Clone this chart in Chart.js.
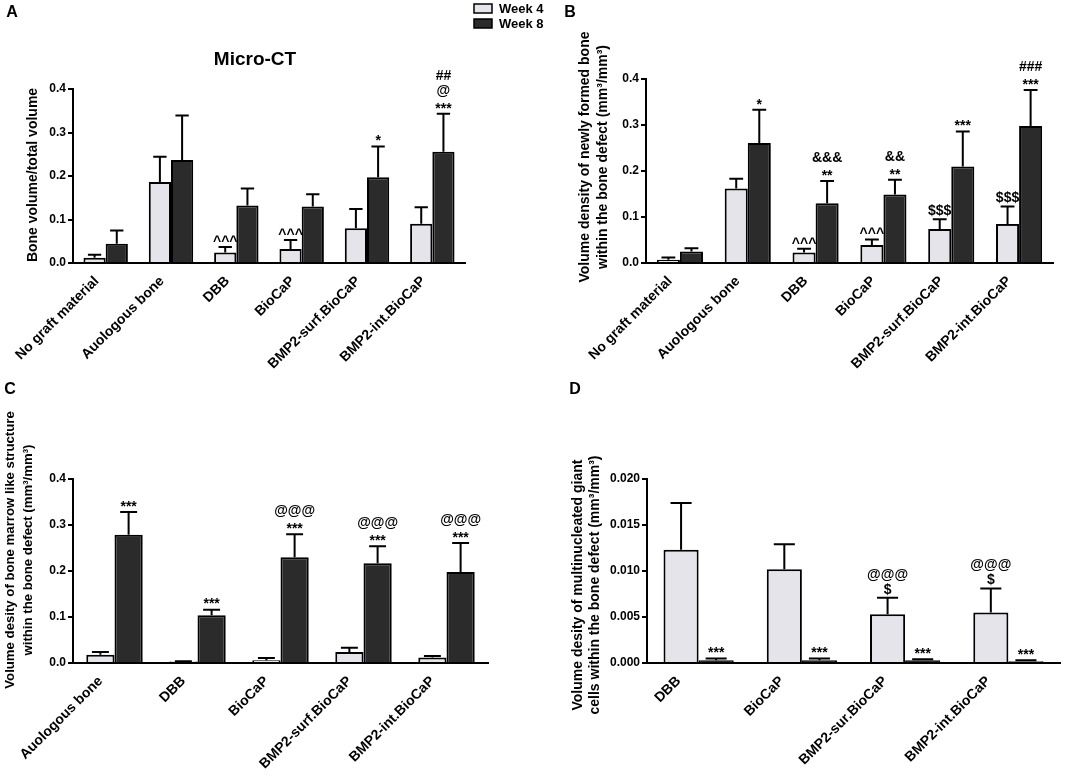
<!DOCTYPE html>
<html>
<head>
<meta charset="utf-8">
<script src="https://cdn.jsdelivr.net/npm/chart.js@4.4.1/dist/chart.umd.min.js"></script>
<style>
  body { margin: 0; background: #fff; width: 1084px; height: 784px; position: relative; overflow: hidden; }
  canvas { position: absolute; }
</style>
</head>
<body>
<canvas id="chartA" width="570" height="390" style="left:0;top:0"></canvas>
<canvas id="chartB" width="544" height="390" style="left:540px;top:0"></canvas>
<canvas id="chartC" width="540" height="404" style="left:0;top:380px"></canvas>
<canvas id="chartD" width="544" height="404" style="left:540px;top:380px"></canvas>
<script>
const FONT = "'Liberation Sans', Arial, sans-serif";
const LIGHT = '#e4e4ea';
const DARK = '#2b2b2b';

// categories
const groupsAB = ['No graft material', 'Auologous bone', 'DBB', 'BioCaP', 'BMP2-surf.BioCaP', 'BMP2-int.BioCaP'];
const groupsC = ['Auologous bone', 'DBB', 'BioCaP', 'BMP2-surf.BioCaP', 'BMP2-int.BioCaP'];
const groupsD = ['DBB', 'BioCaP', 'BMP2-sur.BioCaP', 'BMP2-int.BioCaP'];

// A - micro-CT bone volume / total volume
const ctWeek4 = [0.012, 0.186, 0.024, 0.032, 0.080, 0.090];
const ctWeek4Err = [0.007, 0.058, 0.013, 0.021, 0.044, 0.038];
const ctWeek8 = [0.044, 0.237, 0.132, 0.130, 0.197, 0.256];
const ctWeek8Err = [0.031, 0.102, 0.039, 0.028, 0.071, 0.087];
const ctWeek4Notes = [[], [], ['^^^'], ['^^^'], [], []];
const ctWeek8Notes = [[], [], [], [], ['*'], ['##', '@', '***']];

// B - newly formed bone
const newBoneWeek4 = [0.007, 0.162, 0.023, 0.039, 0.074, 0.085];
const newBoneWeek4Err = [0.005, 0.021, 0.008, 0.012, 0.021, 0.038];
const newBoneWeek8 = [0.025, 0.261, 0.130, 0.149, 0.210, 0.298];
const newBoneWeek8Err = [0.007, 0.072, 0.048, 0.032, 0.076, 0.078];
const newBoneWeek4Notes = [[], [], ['^^^'], ['^^^'], ['$$$'], ['$$$']];
const newBoneWeek8Notes = [[], ['*'], ['&&&', '**'], ['&&', '**'], ['***'], ['###', '***']];

// C - bone marrow like structure
const marrowWeek4 = [0.018, 0.003, 0.006, 0.024, 0.012];
const marrowWeek4Err = [0.006, 0.001, 0.005, 0.009, 0.003];
const marrowWeek8 = [0.279, 0.104, 0.230, 0.217, 0.198];
const marrowWeek8Err = [0.049, 0.012, 0.050, 0.037, 0.063];
const marrowWeek4Notes = [[], [], [], [], []];
const marrowWeek8Notes = [['***'], ['***'], ['@@@', '***'], ['@@@', '***'], ['@@@', '***']];

// D - multinucleated giant cells
const giantWeek4 = [0.0123, 0.0102, 0.0053, 0.0055];
const giantWeek4Err = [0.0051, 0.0027, 0.0018, 0.0026];
const giantWeek8 = [0.0003, 0.0003, 0.0003, 0.0002];
const giantWeek8Err = [0.0002, 0.0002, 0.0001, 0.0001];
const giantWeek4Notes = [[], [], ['@@@', '$'], ['@@@', '$']];
const giantWeek8Notes = [['***'], ['***'], ['***'], ['***']];

const legendLabels = ['Week 4', 'Week 8'];

function bold(size) { return 'bold ' + size + 'px ' + FONT; }

// error bars, significance marks, titles, letters
const decor = {
  id: 'decor',
  afterDatasetsDraw(chart, args, o) {
    const ctx = chart.ctx;
    const yScale = chart.scales.y;
    ctx.save();
    ctx.strokeStyle = '#000';
    ctx.fillStyle = '#000';
    ctx.lineWidth = 2;
    ctx.textAlign = 'center';
    ctx.textBaseline = 'alphabetic';
    chart.data.datasets.forEach((ds, i) => {
      const meta = chart.getDatasetMeta(i);
      meta.data.forEach((bar, j) => {
        const top = yScale.getPixelForValue(ds.data[j] + o.errors[i][j]);
        const half = bar.width * 0.3;
        ctx.beginPath();
        ctx.moveTo(bar.x, bar.y);
        ctx.lineTo(bar.x, top);
        ctx.moveTo(bar.x - half, top);
        ctx.lineTo(bar.x + half, top);
        ctx.stroke();
        const lines = o.notes[i][j];
        const n = lines.length;
        lines.forEach((t, k) => {
          const cy = top - 9 - (n - 1 - k) * 15;
          const high = /^[*^]+$/.test(t);
          ctx.font = bold(14);
          ctx.fillText(t, bar.x, cy + (high ? 7.8 : 5));
        });
      });
    });
    ctx.restore();
  },
  afterDraw(chart, args, o) {
    const ctx = chart.ctx;
    ctx.save();
    ctx.fillStyle = '#000';
    ctx.textAlign = 'center';
    ctx.textBaseline = 'middle';
    ctx.font = bold(16);
    ctx.fillText(o.letter[0], o.letter[1], o.letter[2]);
    ctx.font = bold(o.yTitleSize);
    o.yTitle.forEach((t, k) => {
      ctx.save();
      ctx.translate(o.yTitleX[k], o.yTitleY);
      ctx.rotate(-Math.PI / 2);
      ctx.fillText(t, 0, 0);
      ctx.restore();
    });
    if (o.title) {
      ctx.font = bold(19);
      ctx.fillText(o.title, 255, 60);
    }
    if (o.legend) {
      ctx.textAlign = 'left';
      ctx.font = bold(13);
      ctx.lineWidth = 1.5;
      ctx.strokeStyle = '#000';
      [LIGHT, DARK].forEach((c, k) => {
        const y = 4 + k * 15;
        ctx.fillStyle = c;
        ctx.fillRect(474, y, 18, 9);
        ctx.strokeRect(474, y, 18, 9);
        ctx.fillStyle = '#000';
        ctx.fillText(legendLabels[k], 499, y + 5);
      });
    }
    ctx.restore();
  }
};

function makePanel(id, cfg) {
  return new Chart(document.getElementById(id), {
    type: 'bar',
    data: {
      labels: cfg.labels,
      datasets: [
        { label: legendLabels[0], data: cfg.w4, backgroundColor: LIGHT, borderColor: '#000', borderWidth: 2 },
        { label: legendLabels[1], data: cfg.w8, backgroundColor: DARK, borderColor: '#000', borderWidth: 2 }
      ]
    },
    options: {
      responsive: false,
      animation: false,
      layout: { padding: { top: cfg.padTop, right: cfg.padRight, left: 0, bottom: 0 } },
      datasets: { bar: { categoryPercentage: 0.68, barPercentage: 1 } },
      plugins: {
        legend: { display: false },
        tooltip: { enabled: false },
        decor: {
          errors: [cfg.e4, cfg.e8],
          notes: [cfg.n4, cfg.n8],
          letter: cfg.letter,
          yTitle: cfg.yTitle,
          yTitleX: cfg.yTitleX,
          yTitleY: cfg.yTitleY,
          yTitleSize: cfg.yTitleSize || 14,
          title: cfg.title,
          legend: cfg.legend
        }
      },
      scales: {
        x: {
          offset: true,
          grid: { display: false, drawTicks: false },
          border: { display: true, color: '#000', width: 2 },
          ticks: {
            color: '#000', font: { family: FONT, size: 14, weight: 'bold' },
            minRotation: 45, maxRotation: 45, autoSkip: false,
            padding: 10, labelOffset: cfg.labelOffset
          },
          afterFit: s => { s.height = cfg.xHeight; }
        },
        y: {
          min: 0, max: cfg.max,
          grid: { display: true, drawOnChartArea: false, drawTicks: true, tickLength: 5, color: '#000', lineWidth: 2 },
          border: { display: true, color: '#000', width: 2 },
          ticks: {
            stepSize: cfg.step, padding: 2, color: '#000',
            font: { family: FONT, size: 12, weight: 'bold' },
            callback: v => v.toFixed(cfg.digits)
          },
          afterFit: s => { s.width = cfg.yWidth; }
        }
      }
    },
    plugins: [decor]
  });
}

makePanel('chartA', {
  labels: groupsAB, w4: ctWeek4, w8: ctWeek8, e4: ctWeek4Err, e8: ctWeek8Err,
  n4: ctWeek4Notes, n8: ctWeek8Notes,
  max: 0.4, step: 0.1, digits: 1,
  yWidth: 73, xHeight: 127, padTop: 89, padRight: 105, labelOffset: -9,
  letter: ['A', 12, 13],
  yTitle: ['Bone volume/total volume'], yTitleX: [33], yTitleY: 175,
  title: 'Micro-CT', legend: true
});

makePanel('chartB', {
  labels: groupsAB, w4: newBoneWeek4, w8: newBoneWeek8, e4: newBoneWeek4Err, e8: newBoneWeek8Err,
  n4: newBoneWeek4Notes, n8: newBoneWeek8Notes,
  max: 0.4, step: 0.1, digits: 1,
  yWidth: 106, xHeight: 127, padTop: 79, padRight: 31, labelOffset: -10,
  letter: ['B', 30, 13],
  yTitle: ['Volume density of newly formed bone', 'within the bone defect (mm\u00B3/mm\u00B3)'],
  yTitleX: [45, 63], yTitleY: 157
});

makePanel('chartC', {
  labels: groupsC, w4: marrowWeek4, w8: marrowWeek8, e4: marrowWeek4Err, e8: marrowWeek8Err,
  n4: marrowWeek4Notes, n8: marrowWeek8Notes,
  max: 0.4, step: 0.1, digits: 1,
  yWidth: 73, xHeight: 121, padTop: 99, padRight: 52, labelOffset: -14,
  letter: ['C', 10, 10],
  yTitle: ['Volume desity of bone marrow like structure', 'within the bone defect (mm\u00B3/mm\u00B3)'],
  yTitleX: [10, 28], yTitleY: 170, yTitleSize: 13.2
});

makePanel('chartD', {
  labels: groupsD, w4: giantWeek4, w8: giantWeek8, e4: giantWeek4Err, e8: giantWeek8Err,
  n4: giantWeek4Notes, n8: giantWeek8Notes,
  max: 0.02, step: 0.005, digits: 3,
  yWidth: 107, xHeight: 121, padTop: 99, padRight: 24, labelOffset: -20,
  letter: ['D', 35, 10],
  yTitle: ['Volume desity of multinucleated giant', 'cells within the bone defect (mm\u00B3/mm\u00B3)'],
  yTitleX: [38, 55], yTitleY: 205
});
</script>
</body>
</html>
